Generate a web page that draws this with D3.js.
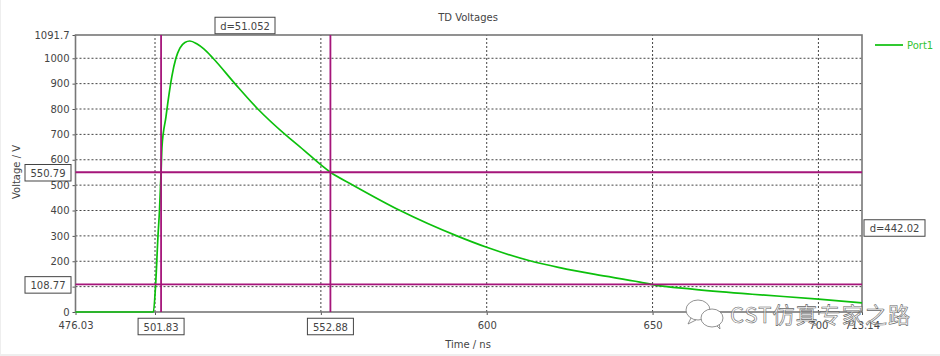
<!DOCTYPE html>
<html>
<head>
<meta charset="utf-8">
<script src="https://d3js.org/d3.v7.min.js"></script>
<style>
  html, body { margin: 0; padding: 0; background: #fff; }
  svg { display: block; }
  text { font-family: "DejaVu Sans", sans-serif; font-size: 10px; fill: #444; }
</style>
</head>
<body>
<svg id="chart" width="940" height="356"></svg>
<script>
// Values
const times = [476.03, 499.5, 500.15, 500.9, 501.35, 501.83, 502.1, 503.3, 503.9, 505.1, 506.3, 507.5, 509, 510.5, 512.7, 514.8, 517.5,
  524.1, 531, 539.2, 543.7, 552.88, 559.7, 573.9, 591, 600, 613, 622, 632.7, 646.2, 650, 662, 680, 700, 713.14];
const voltages = [0, 0, 100, 300, 400, 550.79, 650, 769, 828, 930, 1000, 1040, 1062, 1068, 1056, 1036, 1000,
  900, 800, 700, 651, 550.79, 500, 400, 300, 255, 202, 175, 148, 118, 108, 90, 70, 51, 36];
const xGrid = [500, 550, 600, 650, 700];
const yGrid = [100, 200, 300, 400, 500, 600, 700, 800, 900, 1000];
const xTickLabels = [476.03, 600, 650, 700, 713.14];
const yTickLabels = [0, 200, 300, 400, 500, 600, 700, 800, 900, 1000, 1091.7];
const xMarkers = [501.83, 552.88];
const yMarkers = [550.79, 108.77];
const xDelta = "d=51.052";
const yDelta = "d=442.02";

const svg = d3.select('#chart');
const x = d3.scaleLinear().domain([476.03, 713.14]).range([75.5, 862]);
const y = d3.scaleLinear().domain([0, 1091.7]).range([312, 35]);

// page edge
svg.append('rect').attr('x', 0).attr('y', 0).attr('width', 1).attr('height', 356).attr('fill', '#eee');
svg.append('rect').attr('x', 0).attr('y', 354).attr('width', 940).attr('height', 2).attr('fill', '#eee');

// grid
const dash = '2,2';
svg.append('g').selectAll('line').data(xGrid).join('line')
  .attr('x1', d => x(d)).attr('x2', d => x(d)).attr('y1', y(0)).attr('y2', y(1091.7))
  .attr('stroke', '#444').attr('stroke-dasharray', dash);
svg.append('g').selectAll('line').data(yGrid).join('line')
  .attr('x1', x(476.03)).attr('x2', x(713.14)).attr('y1', d => y(d)).attr('y2', d => y(d))
  .attr('stroke', '#444').attr('stroke-dasharray', dash);

// axes
const xTicks = Array.from(new Set(xTickLabels.concat(xGrid)));
const yTicks = Array.from(new Set(yTickLabels.concat(yGrid)));
const xAxis = d3.axisBottom(x).tickValues(xTicks).tickSize(3).tickPadding(7)
  .tickFormat(d => xTickLabels.includes(d) ? String(d) : '');
const yAxis = d3.axisLeft(y).tickValues(yTicks).tickSize(3).tickPadding(3)
  .tickFormat(d => yTickLabels.includes(d) ? String(d) : '');
[svg.append('g').attr('transform', `translate(0,${y(0)})`).call(xAxis),
 svg.append('g').attr('transform', `translate(${x(476.03)},0)`).call(yAxis)].forEach(g => {
  g.selectAll('.domain').remove();
  g.selectAll('line').attr('stroke', '#555');
  g.selectAll('text').style('font-size', '10px').style('font-family', '"DejaVu Sans", sans-serif');
});

// frame
svg.append('rect').attr('x', x(476.03)).attr('y', y(1091.7))
  .attr('width', x(713.14) - x(476.03)).attr('height', y(0) - y(1091.7))
  .attr('fill', 'none').attr('stroke', '#777').attr('stroke-width', 1.6);

// curve
const line = d3.line().x((d, i) => x(times[i])).y(d => y(d)).curve(d3.curveMonotoneX);
svg.append('path').attr('d', line(voltages))
  .attr('fill', 'none').attr('stroke', '#0cc00c').attr('stroke-width', 1.7);

// marker lines
const markerColor = '#a5157a';
svg.append('g').selectAll('line').data(xMarkers).join('line')
  .attr('x1', d => x(d)).attr('x2', d => x(d)).attr('y1', y(0)).attr('y2', y(1091.7))
  .attr('stroke', markerColor).attr('stroke-width', 1.8);
svg.append('g').selectAll('line').data(yMarkers).join('line')
  .attr('x1', x(476.03)).attr('x2', x(713.14)).attr('y1', d => y(d)).attr('y2', d => y(d))
  .attr('stroke', markerColor).attr('stroke-width', 1.8);

function box(cx, cy, w, h, label) {
  svg.append('rect').attr('x', cx - w / 2).attr('y', cy - h / 2).attr('width', w).attr('height', h)
    .attr('fill', '#fff').attr('stroke', '#444');
  svg.append('text').attr('x', cx).attr('y', cy + 4).attr('text-anchor', 'middle').text(label);
}
xMarkers.forEach(d => box(x(d), 326.5, 46, 16.5, d));
yMarkers.forEach(d => box(48, y(d) + 0.5, 46, 16.5, d));
box(245, 25.5, 60, 16.5, xDelta);
box(894.5, 228, 61, 16.5, yDelta);

// titles
svg.append('text').attr('x', 468).attr('y', 21).attr('text-anchor', 'middle').text('TD Voltages');
svg.append('text').attr('x', 468).attr('y', 348).attr('text-anchor', 'middle').text('Time / ns');
svg.append('text').attr('transform', 'translate(20,172) rotate(-90)').attr('text-anchor', 'middle').text('Voltage / V');

// legend
svg.append('line').attr('x1', 875).attr('x2', 903).attr('y1', 45).attr('y2', 45)
  .attr('stroke', '#0cc00c').attr('stroke-width', 1.7);
svg.append('text').attr('x', 907).attr('y', 49).style('fill', '#33c433').text('Port1');

// watermark: see-through outline so the ticks underneath still show
const mark = svg.append('g').attr('fill', '#fff').attr('stroke', '#777').attr('stroke-width', 0.8);
mark.append('path').attr('d', 'M691,318 L688,324 L696,320');
mark.append('ellipse').attr('cx', 698).attr('cy', 310).attr('rx', 12).attr('ry', 10);
mark.append('path').attr('d', 'M716,325 L720,329 L719,323');
mark.append('ellipse').attr('cx', 712).attr('cy', 318).attr('rx', 11).attr('ry', 9);
svg.append('text').attr('x', 730).attr('y', 323).attr('textLength', 180)
  .style('font-family', '"Noto Sans CJK SC", sans-serif').style('font-size', '22px')
  .style('fill', 'rgba(255,255,255,0.55)').attr('stroke', '#666').attr('stroke-width', 0.6)
  .text('CST仿真专家之路');
</script>
</body>
</html>
